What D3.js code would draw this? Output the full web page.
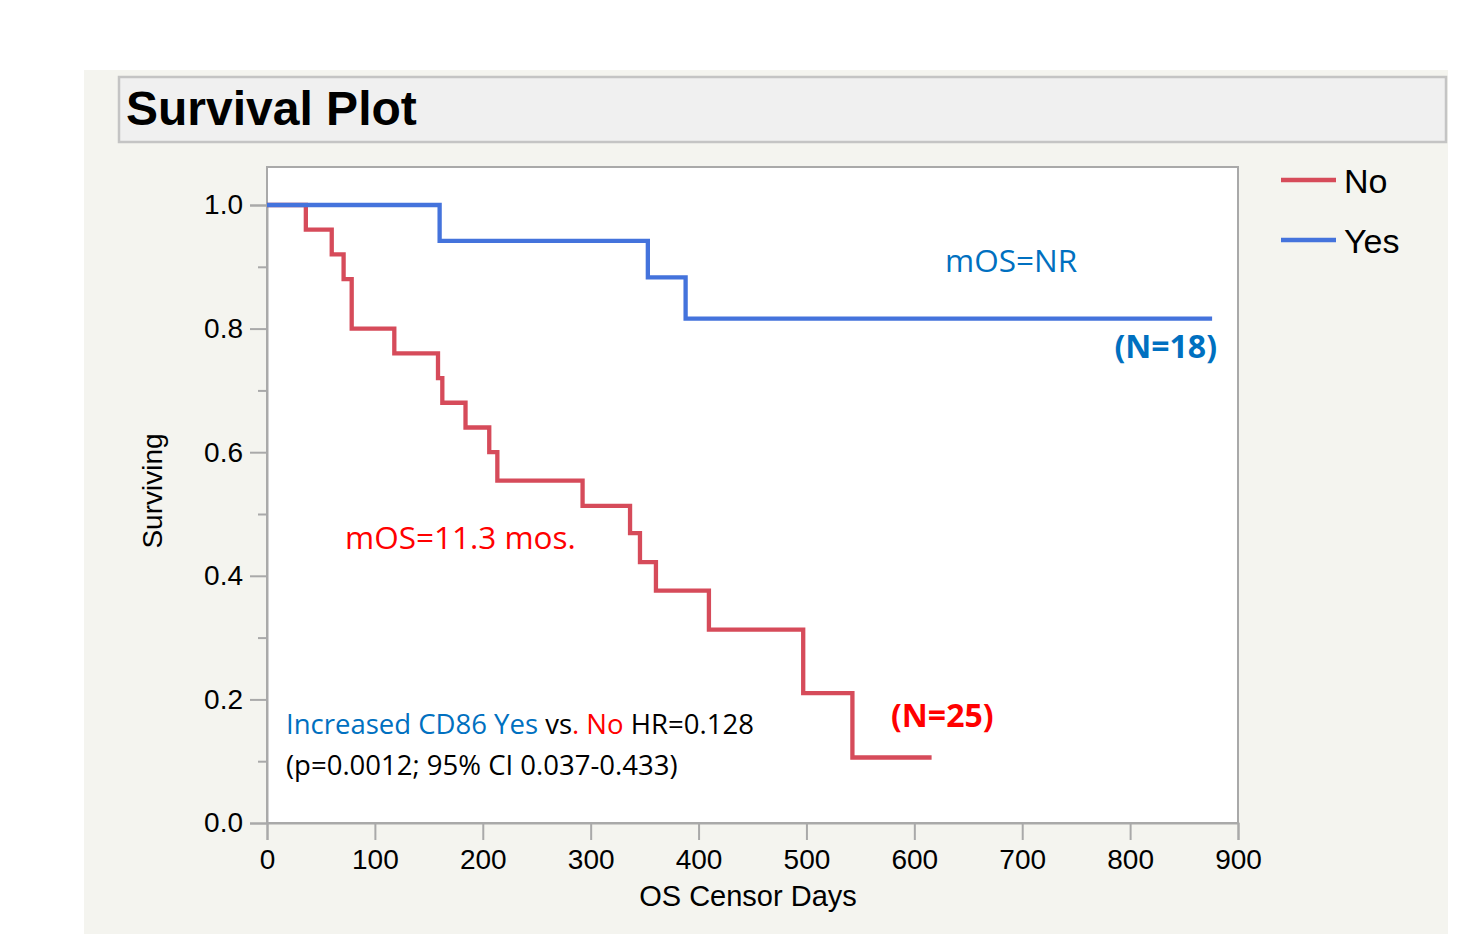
<!DOCTYPE html>
<html>
<head>
<meta charset="utf-8">
<script src="https://cdn.jsdelivr.net/npm/d3@7"></script>
<style>
  body { margin: 0; background: #fff; }
  svg { display: block; }
</style>
</head>
<body>
<div id="chart"></div>
<script>
// Kaplan-Meier survival curves
const groups = ['No', 'Yes'];
const noDays = [0, 36, 60, 71, 78.5, 118, 158.5, 162.5, 184, 206, 213.5, 292.5, 336.5, 345.7, 360.5, 409.6, 497, 542.6, 616];
const noSurv = [1, 0.96, 0.92, 0.88, 0.80, 0.76, 0.72, 0.68, 0.64, 0.60, 0.554, 0.513, 0.469, 0.422, 0.376, 0.313, 0.210, 0.106, 0.106];
const yesDays = [0, 160, 353, 388, 876];
const yesSurv = [1, 0.942, 0.883, 0.816, 0.816];
const xTicks = [0, 100, 200, 300, 400, 500, 600, 700, 800, 900];
const yTicks = [0, 0.2, 0.4, 0.6, 0.8, 1.0];
const yMinorTicks = [0.1, 0.3, 0.5, 0.7, 0.9];

const colors = { No: '#d64b5a', Yes: '#4473dc' };
const sans = '"Liberation Sans", Arial, Helvetica, sans-serif';
const calib = '"Open Sans", "Noto Sans", sans-serif';

const width = 1471, height = 934;
const plot = { left: 267, right: 1238, top: 167, bottom: 823 };

const svg = d3.select('#chart').append('svg')
    .attr('width', width)
    .attr('height', height);

// panel + title bar
svg.append('rect')
    .attr('x', 84).attr('y', 70)
    .attr('width', 1364).attr('height', 864)
    .attr('fill', '#f4f4ef');

svg.append('rect')
    .attr('x', 119).attr('y', 77)
    .attr('width', 1327).attr('height', 65)
    .attr('fill', '#f0f0f0')
    .attr('stroke', '#c4c4c4')
    .attr('stroke-width', 2.5);

svg.append('text')
    .attr('x', 126).attr('y', 125)
    .attr('font-family', sans)
    .attr('font-size', 48)
    .attr('font-weight', 700)
    .attr('fill', '#000')
    .text('Survival Plot');

// plot frame
svg.append('rect')
    .attr('x', plot.left).attr('y', plot.top)
    .attr('width', plot.right - plot.left)
    .attr('height', plot.bottom - plot.top)
    .attr('fill', '#fff')
    .attr('stroke', '#a9a9a9')
    .attr('stroke-width', 2);

const x = d3.scaleLinear().domain([0, 900]).range([plot.left, plot.right]);
const y = d3.scaleLinear().domain([0, 1]).range([plot.bottom, 205]);

// y axis
const yAxis = svg.append('g')
    .attr('transform', `translate(${plot.left},0)`)
    .call(d3.axisLeft(y).tickValues(yTicks).tickSize(17).tickPadding(7).tickFormat(d3.format('.1f')));
svg.append('g')
    .attr('transform', `translate(${plot.left},0)`)
    .call(d3.axisLeft(y).tickValues(yMinorTicks).tickSize(9).tickFormat(''))
    .call(g => g.select('.domain').remove())
    .selectAll('line').attr('stroke', '#a9a9a9').attr('stroke-width', 2);

yAxis.select('.domain').attr('stroke', '#a9a9a9').attr('stroke-width', 2);
yAxis.selectAll('line').attr('stroke', '#a9a9a9').attr('stroke-width', 2);
yAxis.selectAll('text')
    .attr('font-family', sans)
    .attr('font-size', 28)
    .attr('fill', '#000');

// x axis
const xAxis = svg.append('g')
    .attr('transform', `translate(0,${plot.bottom})`)
    .call(d3.axisBottom(x).tickValues(xTicks).tickSize(17).tickPadding(9));
xAxis.select('.domain').attr('stroke', '#a9a9a9').attr('stroke-width', 2);
xAxis.selectAll('line').attr('stroke', '#a9a9a9').attr('stroke-width', 2);
xAxis.selectAll('text')
    .attr('font-family', sans)
    .attr('font-size', 28)
    .attr('fill', '#000');

svg.append('text')
    .attr('x', 748).attr('y', 906)
    .attr('text-anchor', 'middle')
    .attr('font-family', sans)
    .attr('font-size', 29)
    .attr('fill', '#000')
    .text('OS Censor Days');

svg.append('text')
    .attr('transform', 'translate(162,491) rotate(-90)')
    .attr('text-anchor', 'middle')
    .attr('font-family', sans)
    .attr('font-size', 28)
    .attr('fill', '#000')
    .text('Surviving');

// curves
const line = d3.line()
    .x(d => x(d[0]))
    .y(d => y(d[1]))
    .curve(d3.curveStepAfter);

const curves = {
    No: d3.zip(noDays, noSurv),
    Yes: d3.zip(yesDays, yesSurv)
};

groups.forEach(g => {
    svg.append('path')
        .datum(curves[g])
        .attr('d', line)
        .attr('fill', 'none')
        .attr('stroke', colors[g])
        .attr('stroke-width', 4.3);
});

// legend
const legend = svg.append('g');
groups.forEach((g, i) => {
    const ly = 180 + i * 60;
    legend.append('line')
        .attr('x1', 1281).attr('x2', 1336)
        .attr('y1', ly).attr('y2', ly)
        .attr('stroke', colors[g])
        .attr('stroke-width', 4.5);
    legend.append('text')
        .attr('x', 1344).attr('y', ly + 13)
        .attr('font-family', sans)
        .attr('font-size', 34)
        .attr('fill', '#000')
        .text(g);
});

// annotations
const blueTxt = '#0070c0', redTxt = '#ff0000';

svg.append('text')
    .attr('x', 945).attr('y', 272)
    .attr('font-family', calib).attr('font-size', 31.5)
    .attr('fill', blueTxt)
    .text('mOS=NR');

svg.append('text')
    .attr('x', 1217).attr('y', 358)
    .attr('text-anchor', 'end')
    .attr('font-family', calib).attr('font-size', 32).attr('font-weight', 700)
    .attr('fill', blueTxt)
    .text('(N=18)');

svg.append('text')
    .attr('x', 345).attr('y', 549)
    .attr('font-family', calib).attr('font-size', 31.5)
    .attr('fill', redTxt)
    .text('mOS=11.3 mos.');

svg.append('text')
    .attr('x', 891).attr('y', 727)
    .attr('font-family', calib).attr('font-size', 32).attr('font-weight', 700)
    .attr('fill', redTxt)
    .text('(N=25)');

const hr = svg.append('text')
    .attr('x', 286).attr('y', 734)
    .attr('font-family', calib).attr('font-size', 27.5)
    .attr('fill', '#000');
hr.append('tspan').attr('fill', blueTxt).text('Increased CD86 Yes');
hr.append('tspan').attr('fill', '#000').text(' vs');
hr.append('tspan').attr('fill', redTxt).text('. No');
hr.append('tspan').attr('fill', '#000').text(' HR=0.128');

svg.append('text')
    .attr('x', 286).attr('y', 775)
    .attr('font-family', calib).attr('font-size', 27.5)
    .attr('fill', '#000')
    .text('(p=0.0012; 95% CI 0.037-0.433)');
</script>
</body>
</html>
